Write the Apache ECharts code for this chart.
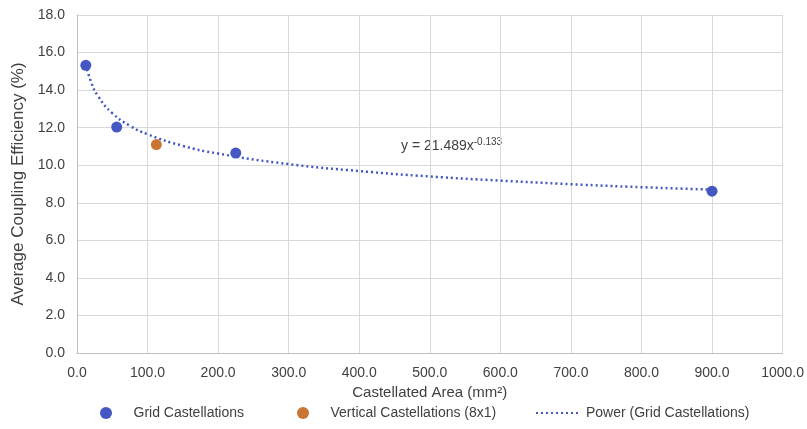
<!DOCTYPE html>
<html>
<head>
<meta charset="utf-8">
<script src="https://cdn.jsdelivr.net/npm/echarts@6/dist/echarts.min.js"></script>
<style>
html, body { margin: 0; padding: 0; background: #fff; }
#chart { width: 807px; height: 429px; }
</style>
</head>
<body>
<div id="chart"></div>
<script>
// measured points (castellated area mm², coupling efficiency %)
var gridX = [12.5, 56.25, 225, 900];
var gridY = [15.32, 12.03, 10.65, 8.62];
var vertX = [112.5];
var vertY = [11.1];
// power trendline
var trendX = [12.5, 20, 30, 50, 75, 100, 150, 200, 300, 400, 500, 600, 700, 800, 900];
var trendY = [15.36, 14.43, 13.67, 12.77, 12.10, 11.65, 11.03, 10.62, 10.06, 9.69, 9.40, 9.18, 8.99, 8.83, 8.70];

function pairs(xs, ys) {
    var out = [];
    for (var i = 0; i < xs.length; i++) out.push([xs[i], ys[i]]);
    return out;
}

var font = '"Liberation Sans", sans-serif';
var legendText = { fontSize: 14, color: '#404040', fontFamily: font };
var myChart = echarts.init(document.getElementById('chart'));

// one legend per item so each sits where the reference puts it
function legendAt(left, item) {
    return { bottom: 4, left: left, itemWidth: 45, itemHeight: 12, textStyle: legendText, data: [item] };
}

var option = {
    animation: false,
    textStyle: { fontFamily: font, color: '#404040' },
    grid: { left: 77, right: 20, top: 15, bottom: 76 },
    xAxis: {
        type: 'value', min: 0, max: 1000, interval: 100,
        name: 'Castellated Area (mm²)', nameLocation: 'middle', nameGap: 32,
        nameTextStyle: { fontSize: 15, color: '#404040', fontFamily: font },
        axisLine: { lineStyle: { color: '#bfbfbf' } },
        axisTick: { show: false },
        axisLabel: { fontSize: 14, color: '#404040', margin: 13,
            formatter: function (v) { return v.toFixed(1); } },
        splitLine: { show: true, lineStyle: { color: '#d9d9d9' } }
    },
    yAxis: {
        type: 'value', min: 0, max: 18, interval: 2,
        name: 'Average Coupling Efficiency (%)', nameLocation: 'middle', nameGap: 38,
        nameTextStyle: { fontSize: 17, color: '#404040', fontFamily: font },
        axisLine: { show: true, lineStyle: { color: '#bfbfbf' } },
        axisTick: { show: false },
        axisLabel: { fontSize: 14, color: '#404040', margin: 12,
            formatter: function (v) { return v.toFixed(1); } },
        splitLine: { lineStyle: { color: '#d9d9d9' } }
    },
    legend: [
        legendAt(95, { name: 'Grid Castellations', icon: 'circle' }),
        legendAt(292, { name: 'Vertical Castellations (8x1)', icon: 'circle' }),
        legendAt(530, { name: 'Power (Grid Castellations)', itemStyle: { opacity: 0 } })
    ],
    graphic: [{
        type: 'text', left: 401, top: 137,
        style: {
            text: '{b|y = 21.489x}{s|-0.133}',
            rich: {
                b: { fontSize: 14, fill: '#404040', fontFamily: font },
                s: { fontSize: 10, fill: '#404040', fontFamily: font, verticalAlign: 'top', padding: [0, 0, 8, 0] }
            }
        }
    }],
    series: [
        {
            name: 'Power (Grid Castellations)', type: 'line', smooth: true,
            symbol: 'none', data: pairs(trendX, trendY),
            lineStyle: { color: '#4457c2', width: 2.5, type: [2, 3] },
            itemStyle: { color: '#4457c2' }, z: 1
        },
        {
            name: 'Grid Castellations', type: 'scatter', symbolSize: 11,
            data: pairs(gridX, gridY), itemStyle: { color: '#4457c2', opacity: 1 }, z: 3
        },
        {
            name: 'Vertical Castellations (8x1)', type: 'scatter', symbolSize: 11,
            data: pairs(vertX, vertY), itemStyle: { color: '#c97534', opacity: 1 }, z: 3
        }
    ]
};

myChart.setOption(option);
</script>
</body>
</html>
